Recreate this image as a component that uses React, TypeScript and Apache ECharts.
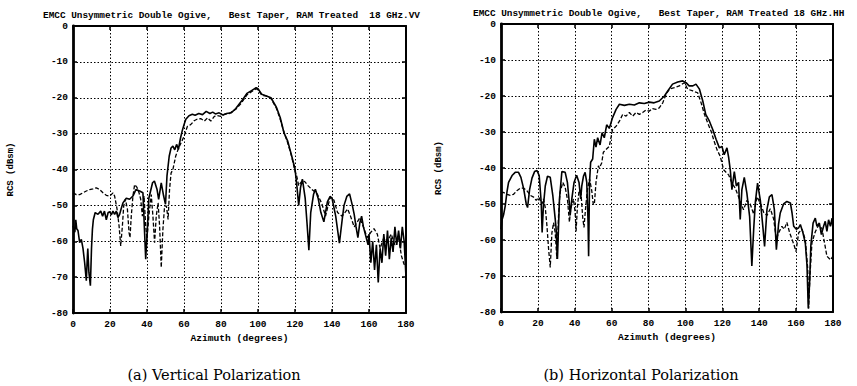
import React, { useEffect, useRef } from "react";
import * as echarts from "echarts";

const xTicks = [0, 20, 40, 60, 80, 100, 120, 140, 160, 180];
const yTicks = [0, -10, -20, -30, -40, -50, -60, -70, -80];

const titleVV = "EMCC Unsymmetric Double Ogive,   Best Taper, RAM Treated  18 GHz.VV";
const titleHH = "EMCC Unsymmetric Double Ogive,   Best Taper, RAM Treated 18 GHz.HH";
const captionVV = "(a) Vertical Polarization";
const captionHH = "(b) Horizontal Polarization";
const xName = "Azimuth (degrees)";
const yName = "RCS (dBsm)";

// Vertical polarization, solid curve [azimuth, dBsm]
const vvSolid: [number, number][] = [
  [0, -55.7], [1, -57.5], [1.5, -54], [2, -56.5], [2.7, -57], [3.6, -60.4], [4.5, -59.5], [5.4, -62],
  [6.3, -66], [7.2, -71], [7.7, -65], [8, -62], [8.6, -68.7], [9.4, -72.4], [10, -62], [10.5, -56.7],
  [11, -54], [12, -52], [13.5, -52.5], [15, -51.6], [16, -53], [17, -51.6], [18, -54], [19, -52],
  [20, -51.8], [20.7, -52.7], [21.6, -51.6], [22.5, -52.5], [23.4, -51.6], [24.3, -53.4], [25.2, -52.5],
  [26, -51], [27, -49.3], [28.8, -48], [30.6, -48.3], [32.4, -47.4], [34, -45.6], [36, -46], [37.8, -46.5],
  [38.7, -57.6], [39.3, -65], [40, -58.5], [41, -48], [43, -43.7], [44, -43.2], [45.4, -45.5], [46.3, -48.3],
  [47.7, -43.7], [49, -47.4], [50, -49.7], [50.8, -41.8], [52, -36.3], [53, -34], [54, -33.5], [55, -34.5],
  [56, -33], [57, -34.4], [58, -31.5], [59, -29.3], [60, -27.5], [61, -26], [62.7, -25], [64.5, -24.6],
  [66, -24.9], [68, -24.4], [70, -24.7], [72, -23.8], [74, -24.4], [75.5, -24], [77, -24.5], [79, -24.2],
  [81, -24.8], [83, -24.4], [85.5, -24.2], [88, -23], [91, -21], [94, -18.8], [96.5, -18], [99, -17.2],
  [100, -17.5], [102, -19], [104.5, -19.5], [107, -20], [110, -22.7], [112, -25.5], [114, -29.7], [116, -32],
  [118, -35.8], [120, -39.8], [121, -44.5], [122, -50], [123, -45], [124, -42.7], [125.5, -48], [126.5, -55],
  [127.5, -62.5], [128.5, -52], [130, -47], [131, -45.5], [132.5, -48], [134, -52], [135.6, -54.6], [137.5, -49],
  [139, -47.5], [140, -48], [142, -53], [144, -60.5], [145.5, -54], [146.5, -50], [148, -47.5], [149.5, -46.8],
  [151, -50], [152, -52.5], [153, -56], [154, -59], [155, -55], [156, -53], [157, -56], [158, -58],
  [159.5, -61], [160, -58], [161, -66], [162, -60], [163, -68], [164, -61], [165, -71.5], [166, -62],
  [167, -66], [168, -58], [169, -64], [170, -57], [171, -65], [172, -59], [173, -63], [174, -56],
  [175, -61], [176, -57], [177, -62], [178, -56], [179, -60], [180, -70],
];

// Vertical polarization, dashed curve
const vvDashed: [number, number][] = [
  [0, -46.5], [1.8, -47], [3.6, -47], [5.4, -46.5], [7.2, -46], [9, -45.6], [10.8, -45.4], [12.6, -45.1],
  [14.4, -45.6], [16.2, -46.5], [18, -47.2], [19.8, -47.4], [20.7, -47], [21.6, -46.5], [22.5, -47.4],
  [23.8, -51], [24.9, -55.7], [25.8, -61.3], [26.7, -55.7], [27.4, -50.2], [28.3, -48.3], [29.4, -51],
  [30.3, -57.6], [30.8, -59], [31.5, -53], [32.4, -47.4], [33.3, -44.2], [34.6, -45], [35.7, -46.5],
  [36.6, -48.3], [37.5, -53], [38.4, -47.4], [39.3, -55.7], [40, -59.4], [41, -53], [42.3, -47], [43.2, -53],
  [44.1, -60.4], [45, -53], [46, -49.3], [46.8, -55.7], [47.7, -67.3], [48.6, -56.7], [49.5, -50.2],
  [50.5, -50.2], [51.4, -53.9], [52.2, -45.5], [53, -41], [54, -40], [55.5, -36.3], [56.8, -34.4], [58, -33],
  [60, -30.8], [61.8, -28], [63.6, -27.5], [65.5, -26.4], [67, -26], [69, -25.8], [71, -26.5], [72.7, -25.6],
  [74.5, -26.5], [76.4, -25.2], [78, -25], [80, -25.2], [82, -24.6], [84.5, -24.4], [88, -23.2], [91, -21.5],
  [94, -19.2], [96.5, -18.3], [99, -17.5], [100, -17.8], [102, -19.3], [104.5, -19.5], [107, -20.2],
  [110, -23], [112, -26], [114, -29.5], [116, -32.5], [118, -36], [120, -40.5], [121, -42], [122, -44.5],
  [124, -43], [125.5, -43.5], [127, -44.5], [129, -45.5], [132, -46.8], [134.5, -49.5], [136.5, -53],
  [139, -47.7], [141, -48.5], [143, -52], [145.5, -53], [148.5, -51], [150, -53], [152, -56], [155, -53.5],
  [157, -56], [159, -59], [161, -57.5], [162.7, -56.5], [164.5, -58], [166, -62], [168, -59], [170, -60],
  [172, -58], [174, -61], [176, -59], [177.5, -64], [179, -66.5], [180, -66],
];

// Horizontal polarization, solid curve
const hhSolid: [number, number][] = [
  [0, -57], [0.5, -54.5], [1.4, -53], [2.3, -50.5], [3.2, -46.8], [4.1, -44], [6, -42.1], [7.7, -41.2],
  [9.5, -41.2], [10.8, -42.6], [12.3, -45.8], [13.7, -50], [14.4, -51], [15.5, -46], [16.8, -42.8],
  [18.2, -41], [19.5, -40.7], [20.7, -42.1], [21.8, -49.5], [22.3, -57.9], [23, -50.5], [24, -45],
  [25.2, -42.3], [26.7, -42.6], [28.1, -47.7], [29.4, -54.2], [29.9, -57], [30.6, -65.3], [31.7, -48.6],
  [33, -41], [34.8, -41.2], [36, -44], [37, -49.5], [37.5, -53.2], [38.4, -48.6], [39.6, -44], [41, -42],
  [42.3, -44], [43.2, -48.6], [43.8, -45], [44.7, -42.3], [45.6, -41.2], [46.5, -44], [47.2, -55],
  [47.5, -64.5], [48, -44], [48.6, -38.4], [49.7, -37.5], [50.6, -32], [51.5, -34.2], [52.4, -31.6],
  [53.7, -33.6], [54.8, -30.2], [56, -31.6], [57.3, -28], [58.7, -29], [60.5, -26], [62.4, -23.7],
  [64.2, -22.3], [66.9, -22.6], [69.6, -22.3], [72.3, -22.5], [75, -21.9], [77.7, -22.1], [80.4, -21.7],
  [83, -21.9], [85.8, -21.4], [88.6, -20], [90.4, -18.6], [93, -16.7], [95.8, -16.1], [98.5, -15.8],
  [100.3, -16.3], [102, -17.2], [104, -17.2], [105.7, -16.7], [107.6, -18.1], [109.4, -21.4], [111, -25.1],
  [113, -27], [114.8, -29.3], [116.6, -32], [118.4, -34.4], [119.8, -34], [121, -36.3], [122.5, -34.4],
  [123.4, -37], [124.3, -40.5], [125.2, -46], [126.5, -41], [127.6, -45], [128.8, -44], [129.7, -54.3],
  [130.6, -46], [131.9, -42.6], [133.3, -47], [134.8, -53.5], [136, -67.2], [137, -57], [137.9, -49.5],
  [139.1, -44.2], [140.6, -49], [142, -56.5], [142.9, -61.8], [144.2, -51.5], [145.5, -48], [146.9, -47.4],
  [148.2, -51.5], [149.3, -62.7], [150.5, -55.5], [151.4, -52.5], [153.2, -50], [155, -49.3], [156.9, -49.7],
  [157.8, -52.5], [158.7, -56.2], [160.1, -57], [161.4, -56.6], [162.3, -55.7], [163.7, -58], [165, -60.9],
  [165.9, -67], [166.6, -79], [167.3, -72], [168, -61.5], [169.2, -55.3], [170.4, -53.9], [171.3, -56.2],
  [172.6, -55.3], [173.7, -58.5], [174.9, -56.2], [175.8, -54.8], [176.7, -57.6], [177.6, -54.4],
  [178.6, -56.2], [179.5, -53.9], [180, -57],
];

// Horizontal polarization, dashed curve
const hhDashed: [number, number][] = [
  [0, -46.8], [1.4, -46.8], [3.2, -47.3], [5, -47.6], [6.8, -47.3], [8.6, -46.3], [10.4, -45.6],
  [12.3, -45.6], [14, -46.3], [15.9, -47.6], [17.7, -48.1], [19.1, -49], [20.4, -48.1], [21.3, -49],
  [22.2, -50], [23, -48.6], [24, -51], [24.9, -56], [25.8, -62.5], [26.7, -67.6], [27.6, -58], [28.5, -55.2],
  [29.4, -58], [30.3, -65.3], [31.2, -53.3], [32, -46.8], [33.5, -44], [34.8, -45.4], [36, -48.6],
  [37.1, -55], [37.8, -51.3], [39.3, -48.6], [40.2, -52.3], [40.7, -57.6], [41.4, -51], [42.3, -46.3],
  [43.4, -47.2], [44.3, -53.7], [45, -56.5], [45.8, -51.5], [46.8, -46.3], [48, -43], [49.2, -46.3],
  [50, -50], [50.6, -50.2], [51.5, -44], [52.8, -39.4], [53.3, -40], [54.6, -38.6], [55.5, -35.6],
  [56.9, -34.9], [58.7, -34], [60.5, -29.3], [62.4, -28.4], [64.2, -27], [66, -25.1], [67.8, -25.6],
  [69.6, -24.6], [71.4, -25.6], [73.2, -24.6], [75, -25.1], [76.8, -24.6], [78.6, -23.9], [80.4, -24.2],
  [82.2, -23.5], [84, -23.7], [85.8, -23.3], [87.7, -21.9], [89.5, -19.5], [91.3, -18.1], [94, -17.7],
  [96.7, -17.2], [99.4, -16.3], [101.2, -18.1], [104, -18.6], [106.6, -19.1], [108.5, -21.9], [110.3, -25.1],
  [112, -27.4], [113.9, -29.8], [115.7, -32.8], [117.1, -34.9], [118.9, -36.8], [120.7, -40.5],
  [123.4, -41.9], [125.2, -44.2], [127, -45.6], [128.8, -48], [130, -49.8], [131.5, -51.6], [133.3, -49],
  [135.1, -50], [137, -52.8], [138.8, -48], [140.6, -49.8], [142.4, -52.3], [144.2, -53.2], [146, -51.3],
  [147.8, -54.1], [149.3, -59.8], [150.5, -58], [152.3, -56.2], [153.6, -57], [155, -55.1], [156.5, -58],
  [157.8, -59.8], [159, -61.6], [159.9, -63.2], [161.4, -58], [163.2, -57], [165, -60], [166.3, -68],
  [166.8, -79], [167.5, -70], [168.6, -60.7], [170.4, -57.7], [172.2, -55.9], [174, -56.8], [175.3, -60.5],
  [176.7, -64.5], [178.6, -65.5], [180, -64.5],
];

const MONO = '"Liberation Mono", "DejaVu Sans Mono", monospace';
const SERIF = '"DejaVu Serif", "Liberation Serif", serif';

export default function App() {
  const ref = useRef<HTMLDivElement>(null);

  useEffect(() => {
    if (!ref.current) return;
    const chart = echarts.init(ref.current, undefined, { renderer: "svg" });

    const grids = [
      { left: 73, top: 26, width: 333, height: 287 },
      { left: 501, top: 24, width: 332, height: 288 },
    ];

    const labelStyle = {
      color: "#000",
      fontFamily: MONO,
      fontSize: 9.5,
      fontWeight: "bold" as const,
    };

    const xAxes: any[] = [];
    const yAxes: any[] = [];
    grids.forEach((_, gi) => {
      xAxes.push({
        gridIndex: gi,
        type: "value",
        min: xTicks[0],
        max: xTicks[xTicks.length - 1],
        interval: 20,
        position: "bottom",
        axisLine: { show: true, onZero: false, lineStyle: { color: "#000", width: 2.2 } },
        axisTick: { show: true, inside: true, length: 4, lineStyle: { color: "#000", width: 1.5 } },
        axisLabel: { ...labelStyle, margin: 6 },
        splitLine: { show: true, lineStyle: { color: "#000", width: 1, type: [1.5, 2] } },
        name: xName,
        nameLocation: "middle",
        nameGap: 20,
        nameTextStyle: { ...labelStyle, fontSize: 9.6 },
      });
      xAxes.push({
        gridIndex: gi,
        type: "value",
        min: 0,
        max: 180,
        interval: 20,
        position: "top",
        axisLine: { show: true, onZero: false, lineStyle: { color: "#000", width: 2 } },
        axisTick: { show: true, inside: true, length: 4, lineStyle: { color: "#000", width: 1.5 } },
        axisLabel: { show: false },
        splitLine: { show: false },
      });
      yAxes.push({
        gridIndex: gi,
        type: "value",
        min: yTicks[yTicks.length - 1],
        max: yTicks[0],
        interval: 10,
        position: "left",
        axisLine: { show: true, onZero: false, lineStyle: { color: "#000", width: 2.8 } },
        axisTick: { show: true, inside: true, length: 4, lineStyle: { color: "#000", width: 1.5 } },
        axisLabel: { ...labelStyle, margin: 5 },
        splitLine: { show: true, lineStyle: { color: "#000", width: 1, type: [1.5, 2] } },
        name: yName,
        nameLocation: "middle",
        nameGap: 58,
        nameTextStyle: { ...labelStyle, fontSize: 9 },
      });
      yAxes.push({
        gridIndex: gi,
        type: "value",
        min: -80,
        max: 0,
        interval: 10,
        position: "right",
        axisLine: { show: true, onZero: false, lineStyle: { color: "#000", width: 2 } },
        axisTick: { show: true, inside: true, length: 4, lineStyle: { color: "#000", width: 1.5 } },
        axisLabel: { show: false },
        splitLine: { show: false },
      });
    });

    const mk = (data: [number, number][], gi: number, dashed: boolean) => ({
      type: "line",
      xAxisIndex: gi * 2,
      yAxisIndex: gi * 2,
      data,
      showSymbol: false,
      symbol: "none",
      clip: true,
      z: dashed ? 3 : 4,
      lineStyle: {
        color: "#000",
        width: dashed ? 1.3 : 1.6,
        type: dashed ? [4, 2] : "solid",
      },
    });

    chart.setOption({
      animation: false,
      backgroundColor: "#fff",
      grid: grids.map((g) => ({ ...g, show: false, containLabel: false })),
      xAxis: xAxes,
      yAxis: yAxes,
      series: [
        mk(vvDashed, 0, true),
        mk(vvSolid, 0, false),
        mk(hhDashed, 1, true),
        mk(hhSolid, 1, false),
      ],
      graphic: [
        {
          type: "text",
          x: 43,
          y: 15,
          style: {
            text: titleVV,
            font: `bold 9.4px ${MONO}`,
            fill: "#000",
            textVerticalAlign: "middle",
          },
        },
        {
          type: "text",
          x: 473,
          y: 13.5,
          style: {
            text: titleHH,
            font: `bold 9.4px ${MONO}`,
            fill: "#000",
            textVerticalAlign: "middle",
          },
        },
        {
          type: "text",
          x: 214,
          y: 375,
          style: {
            text: captionVV,
            font: `14.5px ${SERIF}`,
            fill: "#000",
            textAlign: "center",
            textVerticalAlign: "middle",
          },
        },
        {
          type: "text",
          x: 641,
          y: 375,
          style: {
            text: captionHH,
            font: `14.5px ${SERIF}`,
            fill: "#000",
            textAlign: "center",
            textVerticalAlign: "middle",
          },
        },
      ],
    });

    return () => chart.dispose();
  }, []);

  return (
    <div
      ref={ref}
      style={{ position: "fixed", left: 0, top: 0, width: 857, height: 386, background: "#fff" }}
    />
  );
}
